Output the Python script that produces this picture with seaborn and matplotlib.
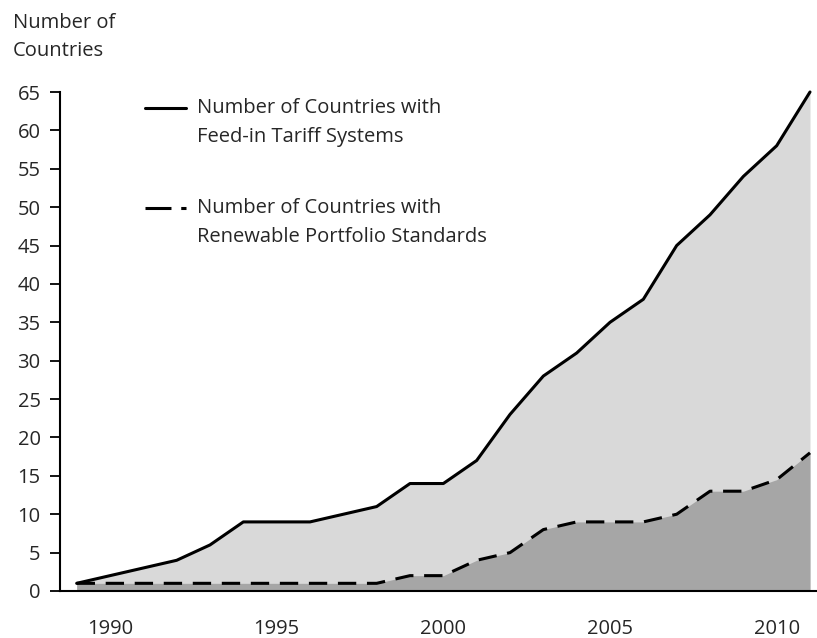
import numpy as np
import pandas as pd
import seaborn as sns
import matplotlib
matplotlib.use("Agg")
import matplotlib.pyplot as plt
from matplotlib.lines import Line2D

# values
years = [1989, 1990, 1991, 1992, 1993, 1994, 1995, 1996, 1997, 1998, 1999, 2000,
         2001, 2002, 2003, 2004, 2005, 2006, 2007, 2008, 2009, 2010, 2011]
fit_countries = [1, 2, 3, 4, 6, 9, 9, 9, 10, 11, 14, 14,
                 17, 23, 28, 31, 35, 38, 45, 49, 54, 58, 65]
rps_countries = [1, 1, 1, 1, 1, 1, 1, 1, 1, 1, 2, 2,
                 4, 5, 8, 9, 9, 9, 10, 13, 13, 14.5, 18]
year_ticks = [1990, 1995, 2000, 2005, 2010]
y_ticks = list(range(0, 70, 5))

fit_label = "Number of Countries with\nFeed-in Tariff Systems"
rps_label = "Number of Countries with\nRenewable Portfolio Standards"

data = pd.DataFrame({"Year": years, "FIT": fit_countries, "RPS": rps_countries})

sns.set_style("white")
plt.rcParams['font.family'] = ['Open Sans', 'DejaVu Sans']
plt.rcParams['text.color'] = '#262626'
fs = 14.5

fig = plt.figure(figsize=(8.17, 6.38), dpi=100)
ax = fig.add_axes([60/817, 1-591/638, 1-60/817, (591-92)/638])

ax.fill_between(data["Year"], 0, data["FIT"], color="#d9d9d9", lw=0)
ax.fill_between(data["Year"], 0, data["RPS"], color="#a6a6a6", lw=0)
sns.lineplot(data=data, x="Year", y="FIT", ax=ax, color="black", lw=2.2,
             clip_on=False)
sns.lineplot(data=data, x="Year", y="RPS", ax=ax, color="black", lw=2.2,
             dashes=(6, 3.5), clip_on=False)

ax.set_xlim(1988.5, 2011.21)
ax.set_ylim(0, 65)
ax.set_xticks(year_ticks)
ax.set_yticks(y_ticks)
ax.set_xlabel("")
ax.set_ylabel("")
ax.tick_params(axis="x", length=0, pad=20, labelsize=fs, labelcolor="#262626")
ax.tick_params(axis="y", length=7, width=1.3, pad=7, labelsize=fs,
               direction="out", left=True, color="black", labelcolor="#262626")
for side in ["top", "right"]:
    ax.spines[side].set_visible(False)
for side in ["left", "bottom"]:
    ax.spines[side].set_color("black")
    ax.spines[side].set_linewidth(1.5)

fig.text(13/817, 1-13/638, "Number of\nCountries", ha="left", va="top",
         fontsize=fs, linespacing=1.55)

# legend drawn by hand so the key sits on the first text line
fig.add_artist(Line2D([145/817, 186/817], [1-108/638, 1-108/638],
                      color="black", lw=2.2))
fig.add_artist(Line2D([145/817, 186/817], [1-208/638, 1-208/638],
                      color="black", lw=2.2, dashes=(8.5, 3.2, 3.2, 20)))
fig.text(197/817, 1-98/638, fit_label, ha="left", va="top", fontsize=fs,
         linespacing=1.6)
fig.text(197/817, 1-198/638, rps_label, ha="left", va="top", fontsize=fs,
         linespacing=1.6)

fig.savefig("out.png", dpi=100)
